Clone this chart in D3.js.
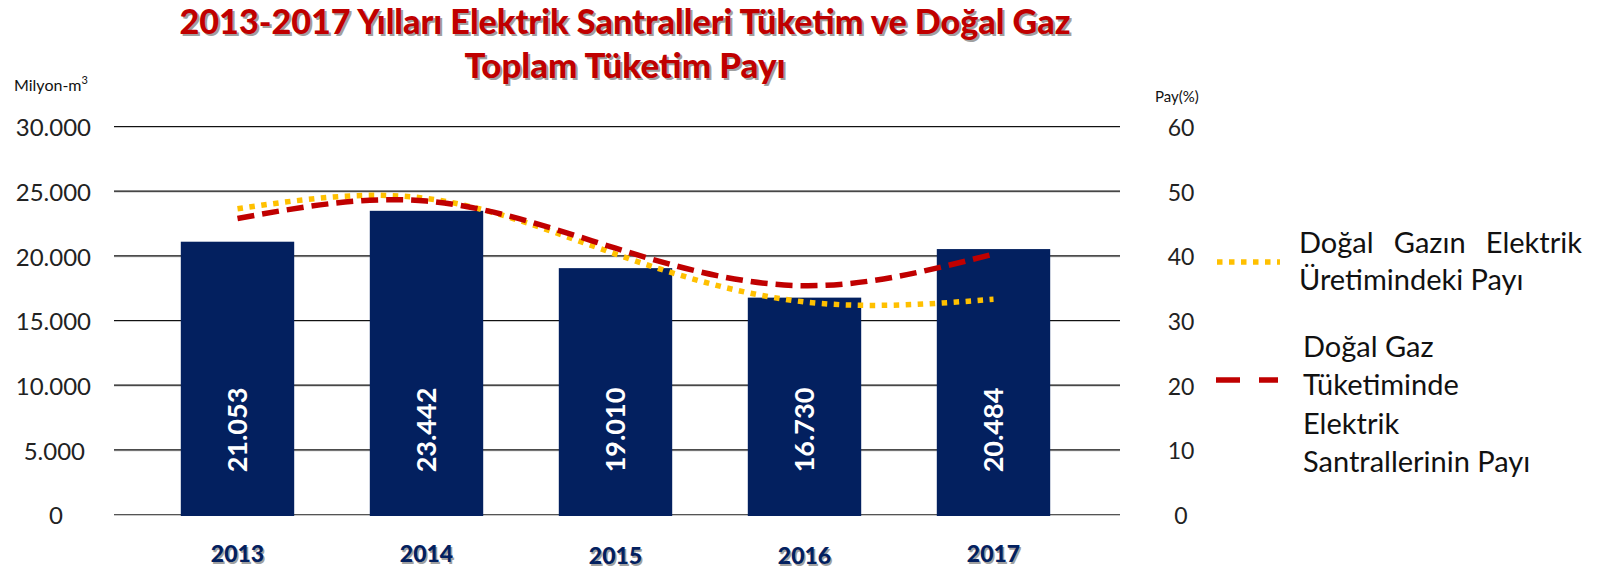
<!DOCTYPE html>
<html>
<head>
<meta charset="utf-8">
<script src="https://cdn.jsdelivr.net/npm/d3@7"></script>
<style>
  body { margin: 0; background: #fff; }
  svg { display: block; }
</style>
</head>
<body>
<div id="chart"></div>
<script>
const years = ['2013', '2014', '2015', '2016', '2017'];
const consumption = [21053, 23442, 19010, 16730, 20484];
const barLabels = ['21.053', '23.442', '19.010', '16.730', '20.484'];
const shareGeneration = [47.2, 48.8, 40.2, 32.8, 33.2];
const shareConsumption = [45.7, 48.4, 41.1, 35.3, 40.2];
const leftTicks = [0, 5000, 10000, 15000, 20000, 25000, 30000];
const rightTicks = [0, 10, 20, 30, 40, 50, 60];

const W = 1599, H = 573;
const FONT = 'Lato, "Open Sans", sans-serif';
const NAVY = '#03205f';

const svg = d3.select('#chart').append('svg')
  .attr('width', W).attr('height', H);

const x = d3.scaleBand().domain(years).range([143, 1088])
  .paddingInner(0.4).paddingOuter(0.2);
const yLeft = d3.scaleLinear().domain([0, 30000]).range([514, 126]);
const yRight = d3.scaleLinear().domain([0, 60]).range([514, 126]);

// gridlines (black line with a soft grey shadow under it)
const grid = svg.append('g');
leftTicks.forEach(t => {
  grid.append('line').attr('x1', 114).attr('x2', 1120)
    .attr('y1', yLeft(t) + 1.5).attr('y2', yLeft(t) + 1.5)
    .attr('stroke', '#c8c8c8').attr('stroke-width', 1);
  grid.append('line').attr('x1', 114).attr('x2', 1120)
    .attr('y1', yLeft(t) + 0.5).attr('y2', yLeft(t) + 0.5)
    .attr('stroke', t === 0 ? '#555' : '#111').attr('stroke-width', 1.2);
});

// left axis
const leftAxis = d3.axisLeft(yLeft).tickValues(leftTicks).tickSize(0).tickPadding(0)
  .tickFormat(d => d === 0 ? '0' : d3.format(',')(d).replace(/,/g, '.'));
const gl = svg.append('g').attr('transform', 'translate(91,2)').call(leftAxis);
gl.select('.domain').remove();
gl.selectAll('text').attr('font-family', FONT).attr('font-size', 24).attr('fill', '#222');
gl.selectAll('.tick').filter(d => d === 0).select('text').attr('x', -28);
gl.selectAll('.tick').filter(d => d === 5000).select('text').attr('x', -6);

// right axis
const rightAxis = d3.axisRight(yRight).tickValues(rightTicks).tickSize(0).tickPadding(0);
const gr = svg.append('g').attr('transform', 'translate(1181,2)').call(rightAxis);
gr.select('.domain').remove();
gr.selectAll('text').attr('font-family', FONT).attr('font-size', 23).attr('fill', '#222')
  .attr('text-anchor', 'middle');

// bars
svg.append('g').selectAll('rect').data(consumption).join('rect')
  .attr('x', (d, i) => x(years[i]))
  .attr('width', x.bandwidth())
  .attr('y', d => yLeft(d))
  .attr('height', d => yLeft(0) - yLeft(d) + 2)
  .attr('fill', NAVY);

// bar value labels (rotated)
svg.append('g').selectAll('text').data(barLabels).join('text')
  .attr('transform', (d, i) => `translate(${x(years[i]) + x.bandwidth() / 2 + 9},430) rotate(-90)`)
  .attr('text-anchor', 'middle')
  .attr('font-family', FONT).attr('font-weight', 700).attr('font-size', 27)
  .attr('fill', '#fff')
  .text(d => d);

// share lines
const line = d3.line()
  .x((d, i) => x(years[i]) + x.bandwidth() / 2)
  .y(d => yRight(d))
  .curve(d3.curveNatural);

svg.append('path').datum(shareGeneration)
  .attr('d', line).attr('fill', 'none')
  .attr('stroke', '#ffc000').attr('stroke-width', 5.5)
  .attr('stroke-dasharray', '5.5 6.5');

svg.append('path').datum(shareConsumption)
  .attr('d', line).attr('fill', 'none')
  .attr('stroke', '#c00000').attr('stroke-width', 5.5)
  .attr('stroke-dasharray', '17 8');

// year labels with shadow
const yearG = svg.append('g');
years.forEach((yr, i) => {
  const cx = x(yr) + x.bandwidth() / 2;
  const dy = (i === 2 || i === 3) ? 2 : 0;
  yearG.append('text').attr('x', cx + 1.5).attr('y', 562 + dy + 1.5)
    .attr('text-anchor', 'middle').attr('font-family', FONT).attr('font-weight', 900)
    .attr('font-size', 23).attr('fill', '#a0a0a0').text(yr);
  yearG.append('text').attr('x', cx).attr('y', 562 + dy)
    .attr('text-anchor', 'middle').attr('font-family', FONT).attr('font-weight', 900)
    .attr('font-size', 23).attr('fill', NAVY).text(yr);
});

// title with shadow
const titleLines = [
  { text: '2013-2017 Yılları Elektrik Santralleri Tüketim ve Doğal Gaz', y: 34, len: 891 },
  { text: 'Toplam Tüketim Payı', y: 78, len: 321 }
];
titleLines.forEach(l => {
  [['#a0a0a0', 2], ['#c00000', 0]].forEach(([c, o]) => {
    svg.append('text').attr('x', 625 + o).attr('y', l.y + o)
      .attr('text-anchor', 'middle')
      .attr('font-family', FONT).attr('font-weight', 900).attr('font-size', 34)
      .attr('textLength', l.len).attr('lengthAdjust', 'spacingAndGlyphs')
      .attr('fill', c).text(l.text);
  });
});

// axis titles
const unitT = svg.append('text').attr('x', 14).attr('y', 91)
  .attr('font-family', FONT).attr('font-size', 16).attr('fill', '#111');
unitT.append('tspan').text('Milyon-m');
unitT.append('tspan').attr('dy', -7).attr('font-size', 11).text('3');

svg.append('text').attr('x', 1155).attr('y', 102)
  .attr('font-family', FONT).attr('font-size', 15).attr('fill', '#111').text('Pay(%)');

// legend
const leg = svg.append('g');
leg.append('line').attr('x1', 1217).attr('x2', 1280).attr('y1', 262).attr('y2', 262)
  .attr('stroke', '#ffc000').attr('stroke-width', 5.5).attr('stroke-dasharray', '5.5 6.5');
leg.append('line').attr('x1', 1216).attr('x2', 1278).attr('y1', 380).attr('y2', 380)
  .attr('stroke', '#c00000').attr('stroke-width', 5.5).attr('stroke-dasharray', '24 19');

const LF = 29;
// justified first line: Doğal   Gazın   Elektrik
const words = ['Doğal', 'Gazın', 'Elektrik'];
const wordEls = words.map(w => leg.append('text').attr('y', 253)
  .attr('font-family', FONT).attr('font-size', LF).attr('fill', '#111').text(w));
const widths = wordEls.map(e => e.node().getComputedTextLength());
const left = 1299, right = 1582;
const gap = (right - left - d3.sum(widths)) / 2;
let cur = left;
wordEls.forEach((e, i) => { e.attr('x', cur); cur += widths[i] + gap; });

leg.append('text').attr('x', 1299).attr('y', 290)
  .attr('font-family', FONT).attr('font-size', LF).attr('fill', '#111').text('Üretimindeki Payı');

const redLines = ['Doğal Gaz', 'Tüketiminde', 'Elektrik', 'Santrallerinin Payı'];
redLines.forEach((t, i) => {
  leg.append('text').attr('x', 1303).attr('y', 357 + i * 38.3)
    .attr('font-family', FONT).attr('font-size', LF).attr('fill', '#111').text(t);
});
</script>
</body>
</html>
